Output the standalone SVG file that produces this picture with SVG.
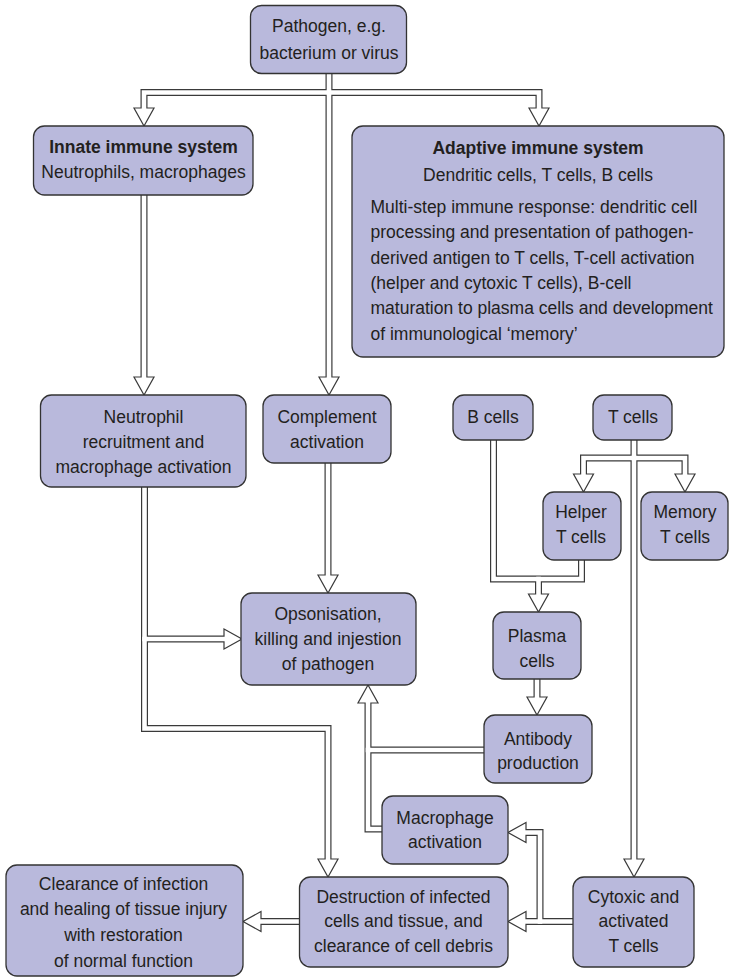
<svg xmlns="http://www.w3.org/2000/svg" width="733" height="979" viewBox="0 0 733 979">
<style>
.box{fill:#b9b9dc;stroke:#333;stroke-width:1.3}
.dk{fill:none;stroke:#3a3a3a;stroke-width:7;stroke-linejoin:miter;stroke-linecap:butt}
.wt{fill:none;stroke:#fff;stroke-width:4.6;stroke-linejoin:miter;stroke-linecap:square}
.hd{fill:#fff;stroke:#3a3a3a;stroke-width:1.2;stroke-linejoin:miter}
text{font-family:"Liberation Sans",Arial,sans-serif;font-size:17.5px;fill:#231f20;text-anchor:middle}
.b{font-weight:bold}
.l{text-anchor:start}
</style>
<defs>
<path id="hd" d="M-10,-18 L10,-18 L0,0 Z"/>
<path id="c1" d="M144,108 V92.5 H539 V108"/>
<path id="c2" d="M329,74 V377"/>
<path id="c3" d="M144,195 V377"/>
<path id="c4" d="M144.5,487 V728.5 H328 V859"/>
<path id="c5" d="M144.5,639 H224"/>
<path id="c6" d="M328,463 V575"/>
<path id="c7" d="M493.5,440 V579 H581.5 V560"/>
<path id="c8" d="M538.5,579 V594"/>
<path id="c9" d="M634,440 V859"/>
<path id="c10" d="M583.5,474 V458 H685 V474"/>
<path id="c11" d="M537,679 V697"/>
<path id="c12" d="M382,829 H368 V703"/>
<path id="c13" d="M484,750 H368"/>
<path id="c14" d="M573,921.5 H526"/>
<path id="c15" d="M540,921.5 V832.5 H526"/>
<path id="c16" d="M299.5,921.5 H261"/>
</defs>
<g id="connectors">
<g class="dk">
<use href="#c1"/><use href="#c2"/><use href="#c3"/><use href="#c4"/><use href="#c5"/><use href="#c6"/><use href="#c7"/><use href="#c8"/><use href="#c9"/><use href="#c10"/><use href="#c11"/><use href="#c12"/><use href="#c13"/><use href="#c14"/><use href="#c15"/><use href="#c16"/>
</g>
<g class="hd">
<use href="#hd" transform="translate(144,126)"/>
<use href="#hd" transform="translate(539,126)"/>
<use href="#hd" transform="translate(329,395)"/>
<use href="#hd" transform="translate(144,395)"/>
<use href="#hd" transform="translate(328,877)"/>
<use href="#hd" transform="translate(242,639) rotate(-90)"/>
<use href="#hd" transform="translate(328,593)"/>
<use href="#hd" transform="translate(538.5,612)"/>
<use href="#hd" transform="translate(634,877)"/>
<use href="#hd" transform="translate(583.5,492)"/>
<use href="#hd" transform="translate(685,492)"/>
<use href="#hd" transform="translate(537,715)"/>
<use href="#hd" transform="translate(368,685) rotate(180)"/>
<use href="#hd" transform="translate(508,921.5) rotate(90)"/>
<use href="#hd" transform="translate(508,832.5) rotate(90)"/>
<use href="#hd" transform="translate(243,921.5) rotate(90)"/>
</g>
<g class="wt">
<use href="#c1"/><use href="#c2"/><use href="#c3"/><use href="#c4"/><use href="#c5"/><use href="#c6"/><use href="#c7"/><use href="#c8"/><use href="#c9"/><use href="#c10"/><use href="#c11"/><use href="#c12"/><use href="#c13"/><use href="#c14"/><use href="#c15"/><use href="#c16"/>
</g>
</g>
<g id="pathogen"><rect class="box" x="250.5" y="5.5" width="156" height="68" rx="11"/><text x="329" y="32">Pathogen, e.g.</text><text x="329" y="59">bacterium or virus</text></g>
<g id="innate"><rect class="box" x="33.5" y="126" width="219.5" height="69" rx="11"/><text class="b" x="143.5" y="153">Innate immune system</text><text x="143.5" y="178">Neutrophils, macrophages</text></g>
<g id="adaptive"><rect class="box" x="352" y="126" width="372" height="231" rx="11"/><text class="b" x="538" y="154">Adaptive immune system</text><text x="538" y="181">Dendritic cells, T cells, B cells</text>
<text class="l" x="370.5" y="213">Multi-step immune response: dendritic cell</text>
<text class="l" x="370.5" y="238">processing and presentation of pathogen-</text>
<text class="l" x="370.5" y="264">derived antigen to T cells, T-cell activation</text>
<text class="l" x="370.5" y="289">(helper and cytoxic T cells), B-cell</text>
<text class="l" x="370.5" y="314">maturation to plasma cells and development</text>
<text class="l" x="370.5" y="340">of immunological ‘memory’</text></g>
<g id="neutrophil"><rect class="box" x="40.5" y="395" width="205.5" height="92" rx="11"/><text x="143.5" y="423">Neutrophil</text><text x="143.5" y="448">recruitment and</text><text x="143.5" y="473">macrophage activation</text></g>
<g id="complement"><rect class="box" x="263" y="395" width="128" height="68" rx="11"/><text x="327" y="423">Complement</text><text x="327" y="448">activation</text></g>
<g id="bcells"><rect class="box" x="453" y="395" width="80" height="45" rx="11"/><text x="493" y="423">B cells</text></g>
<g id="tcells"><rect class="box" x="593" y="395" width="79" height="45" rx="11"/><text x="633" y="423">T cells</text></g>
<g id="helper"><rect class="box" x="543" y="492" width="78" height="68" rx="11"/><text x="581" y="518">Helper</text><text x="581" y="543">T cells</text></g>
<g id="memory"><rect class="box" x="641" y="492" width="87" height="68" rx="11"/><text x="685" y="518">Memory</text><text x="685" y="543">T cells</text></g>
<g id="opsonisation"><rect class="box" x="241" y="593" width="175" height="92" rx="11"/><text x="328" y="620">Opsonisation,</text><text x="328" y="645">killing and injestion</text><text x="328" y="670">of pathogen</text></g>
<g id="plasma"><rect class="box" x="493" y="612" width="88" height="67" rx="11"/><text x="537" y="642">Plasma</text><text x="537" y="667">cells</text></g>
<g id="antibody"><rect class="box" x="484" y="715" width="108" height="68" rx="11"/><text x="538" y="745">Antibody</text><text x="538" y="769">production</text></g>
<g id="macrophage"><rect class="box" x="382" y="796" width="126" height="68" rx="11"/><text x="445" y="824">Macrophage</text><text x="445" y="848">activation</text></g>
<g id="clearance"><rect class="box" x="6" y="865" width="237" height="111" rx="11"/><text x="123.5" y="890">Clearance of infection</text><text x="123.5" y="915">and healing of tissue injury</text><text x="123.5" y="941">with restoration</text><text x="123.5" y="967">of normal function</text></g>
<g id="destruction"><rect class="box" x="299.5" y="877" width="208.5" height="90" rx="11"/><text x="403.5" y="903">Destruction of infected</text><text x="403.5" y="927">cells and tissue, and</text><text x="403.5" y="952">clearance of cell debris</text></g>
<g id="cytoxic"><rect class="box" x="573" y="877" width="121" height="90" rx="11"/><text x="633.5" y="903">Cytoxic and</text><text x="633.5" y="927">activated</text><text x="633.5" y="952">T cells</text></g>
</svg>
